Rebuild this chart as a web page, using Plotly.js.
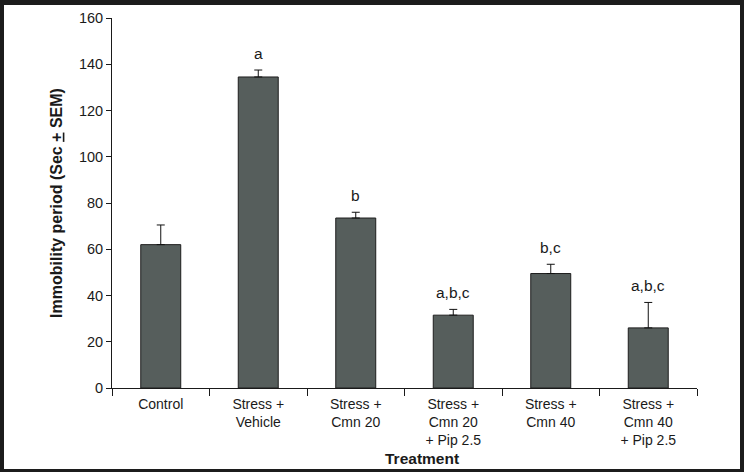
<!DOCTYPE html>
<html>
<head>
<meta charset="utf-8">
<script src="https://cdn.plot.ly/plotly-3.0.1.min.js"></script>
<style>
html,body{margin:0;padding:0;background:#fff;}
#wrap{position:relative;width:744px;height:472px;overflow:hidden;}
#chart{width:744px;height:472px;}
#frame{position:absolute;left:0;top:0;width:744px;height:472px;box-sizing:border-box;border:4px solid #1c1c1c;border-top-width:5px;border-bottom-width:3px;pointer-events:none;}
</style>
</head>
<body>
<div id="wrap"><div id="chart"></div><div id="frame"></div></div>
<script>
const categories = ["Control", "Stress +<br>Vehicle", "Stress +<br>Cmn 20", "Stress +<br>Cmn 20<br>+ Pip 2.5", "Stress +<br>Cmn 40", "Stress +<br>Cmn 40<br>+ Pip 2.5"];
const means = [62, 134.5, 73.5, 31.5, 49.5, 26];
const sem = [8.5, 3, 2.5, 2.5, 4, 11];
const sigLabels = ["", "a", "b", "a,b,c", "b,c", "a,b,c"];
const yTicks = [0, 20, 40, 60, 80, 100, 120, 140, 160];

const trace = {
  type: 'bar',
  x: categories,
  y: means,
  width: 0.41,
  marker: {color: '#565e5c', line: {color: '#1e1e1e', width: 1}},
  error_y: {type: 'data', symmetric: false, array: sem, arrayminus: sem.map(() => 0), color: '#111', thickness: 1, width: 4},
  hoverinfo: 'none'
};

const annotations = [];
categories.forEach((c, i) => {
  if (sigLabels[i]) {
    annotations.push({x: c, y: means[i] + sem[i], xref: 'x', yref: 'y', text: sigLabels[i], showarrow: false,
      yanchor: 'bottom', yshift: 6, font: {family: 'Liberation Sans, Arial, sans-serif', size: 15.5, color: '#1a1a1a'}});
  }
});
annotations.push({x: 0.53, y: 0, xref: 'paper', yref: 'paper', yshift: -60, yanchor: 'top', text: '<b>Treatment</b>', showarrow: false,
  font: {family: 'Liberation Sans, Arial, sans-serif', size: 15.5, color: '#1a1a1a'}});

const layout = {
  width: 744, height: 472,
  margin: {l: 112, r: 47, t: 18, b: 84},
  paper_bgcolor: '#fff', plot_bgcolor: '#fff',
  showlegend: false,
  bargap: 0.59,
  xaxis: {
    type: 'category', showgrid: false, zeroline: false,
    showline: true, linecolor: '#1a1a1a', linewidth: 1,
    ticks: 'outside', tickson: 'boundaries', ticklen: 7, tickcolor: '#1a1a1a', tickwidth: 1,
    ticklabelstandoff: 3,
    tickfont: {family: 'Liberation Sans, Arial, sans-serif', size: 14, color: '#1a1a1a'},
    range: [-0.5, 5.5], fixedrange: true
  },
  yaxis: {
    range: [0, 160], tickvals: yTicks, showgrid: false, zeroline: false,
    showline: true, linecolor: '#1a1a1a', linewidth: 1,
    ticks: 'outside', ticklen: 5, tickcolor: '#1a1a1a', tickwidth: 1,
    tickfont: {family: 'Liberation Sans, Arial, sans-serif', size: 14.5, color: '#1a1a1a'},
    title: {text: '<b>Immobility period (Sec <span style="text-decoration:underline">+</span> SEM)</b>', standoff: 12,
      font: {family: 'Liberation Sans, Arial, sans-serif', size: 16, color: '#1a1a1a'}},
    fixedrange: true
  },
  annotations: annotations
};

Plotly.newPlot('chart', [trace], layout, {displayModeBar: false, staticPlot: true});
</script>
</body>
</html>
